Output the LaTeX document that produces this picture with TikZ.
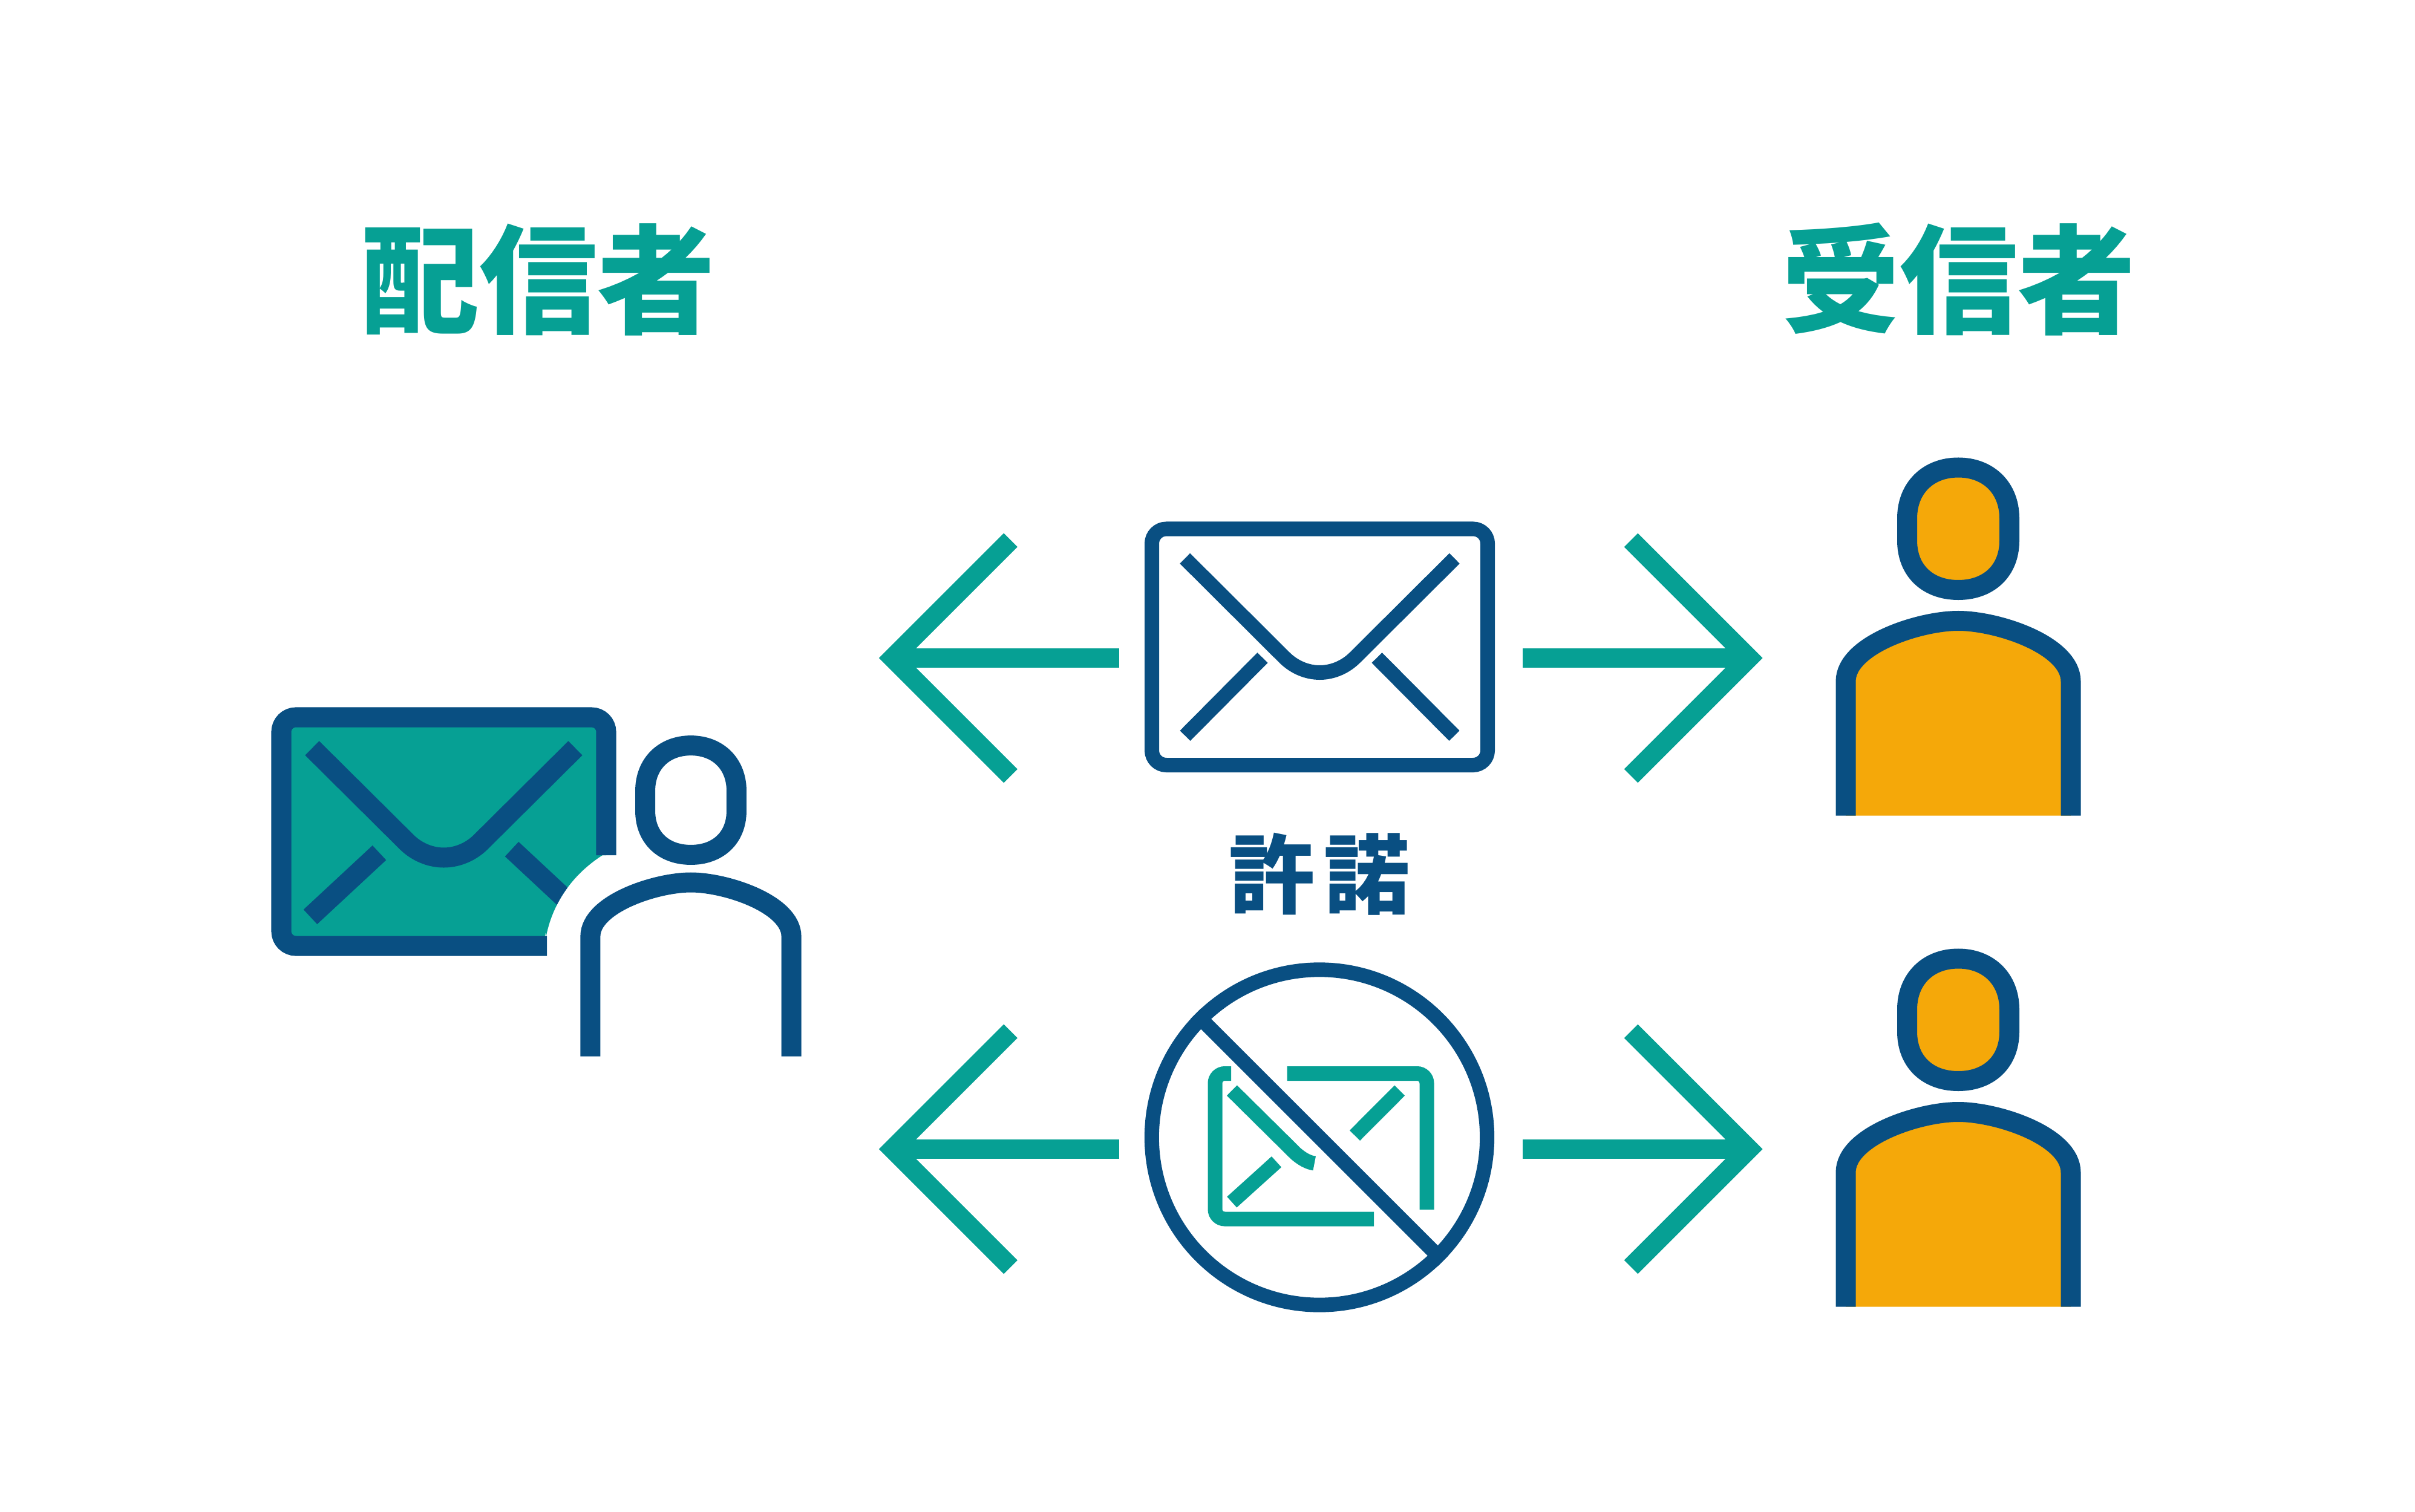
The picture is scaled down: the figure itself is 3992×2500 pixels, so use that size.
\documentclass[tikz,border=0pt]{standalone}
\usepackage{fontspec}
\newfontfamily\cjkfont{Noto Sans CJK JP}
\definecolor{darkline}{RGB}{9,79,130}
\definecolor{tealline}{RGB}{6,160,148}
\definecolor{orangefill}{RGB}{245,168,9}
\tikzset{
  flowline/.style={draw=tealline,line width=0.32cm},
  outline/.style={draw=darkline,line width=0.33cm},
  thinline/.style={draw=darkline,line width=0.24cm},
  crossline/.style={draw=tealline,line width=0.24cm},
  bigtitle/.style={font=\cjkfont\bfseries\fontsize{55.5}{55.5}\selectfont,inner sep=0pt},
  smalltitle/.style={font=\cjkfont\bfseries\fontsize{40.5}{40.5}\selectfont,inner sep=0pt},
  person/.pic={
    \draw [outline,pic actions] (0,-253.5) .. controls (50,-253.5) and (84.5,-219.5) .. (84.5,-169.5)
      -- (84.5,-132.5) .. controls (84.5,-82.5) and (50,-51) .. (0,-51)
      .. controls (-50,-51) and (-84.5,-82.5) .. (-84.5,-132.5)
      -- (-84.5,-169.5) .. controls (-84.5,-219.5) and (-50,-253.5) .. (0,-253.5) -- cycle;
    \draw [outline,pic actions] (-186,322) -- (-186,100)
      .. controls (-186,40) and (-65,0) .. (0,0)
      .. controls (65,0) and (186,40) .. (186,100) -- (186,322);
  }
}
\begin{document}
\begin{tikzpicture}[x=0.01cm,y=-0.01cm]
    \useasboundingbox (0,0) rectangle (3992,2500);

    \draw (890,462) node (sender) [bigtitle,text=tealline] {配信者};
    \draw (3238,462) node (receiver) [bigtitle,text=tealline] {受信者};
    \draw (2181,1445) node (consent) [smalltitle,text=darkline] {許\kern0.1em 諾};

    % sender envelope
    \fill [tealline,rounded corners=0.24cm] (1002,1414) -- (1002,1186) -- (465,1186) -- (465,1564) -- (902,1564)
      [sharp corners] -- (902,1552) .. controls (915,1480) and (960,1437) .. (996,1414) -- cycle;
    \begin{scope}
      \clip (1002,1186) -- (465,1186) -- (465,1564) -- (902,1564) -- (902,1552)
        .. controls (915,1480) and (960,1437) .. (996,1414) -- (1002,1414) -- cycle;
      \draw [outline] (846,1404) -- (935,1487);
    \end{scope}
    \draw [outline,rounded corners=0.24cm] (1002,1414) -- (1002,1186) -- (465,1186) -- (465,1564) -- (904,1564);
    \draw [outline] (516,1237) -- (672,1392) .. controls (688,1408) and (710.5,1418) .. (733.5,1418)
      .. controls (756.5,1418) and (779,1408) .. (795,1392) -- (951,1237);
    \draw [outline] (627,1410) -- (513,1516);

    % people
    \draw (1142,1459) pic (senderPerson) [scale=0.893] {person};
    \draw (3237,1026.5) pic (receiverTop) [fill=orangefill] {person};
    \draw (3237,1838.5) pic (receiverBottom) [fill=orangefill] {person};

    % open envelope
    \draw [thinline,rounded corners=0.24cm] (1904,874.5) rectangle (2459,1265);
    \draw [thinline] (1958.7,923.3) -- (2123,1087) .. controls (2138.5,1102.5) and (2159.5,1112) .. (2181.5,1112)
      .. controls (2203.5,1112) and (2224.5,1102.5) .. (2240,1087) -- (2404.3,923.3);
    \draw [thinline] (2087,1087.5) -- (1959,1216.5);
    \draw [thinline] (2276,1087.5) -- (2404,1216.5);

    % refused envelope
    \draw (2181,1880.5) node (refused) [circle,thinline,minimum size=5.54cm,inner sep=0pt] {};
    \draw [thinline] (refused.135) -- (refused.-45);
    \draw [crossline,rounded corners=0.16cm] (2035,1775) -- (2008.5,1775) -- (2008.5,2015.5) -- (2271,2015.5);
    \draw [crossline,rounded corners=0.16cm] (2127.7,1775) -- (2358.5,1775) -- (2358.5,2000);
    \draw [crossline] (2036.4,1803) -- (2142,1907.5) .. controls (2152,1916) and (2162,1922) .. (2172.7,1923.5);
    \draw [crossline] (2313.7,1803) -- (2239.5,1877.5);
    \draw [crossline] (2110,1921) -- (2036.3,1987.6);

    % arrows
    \draw (1850,1088) coordinate (topLeftFrom);
    \draw (1497,1088) coordinate (topLeftTo);
    \draw (2517,1088) coordinate (topRightFrom);
    \draw (2870,1088) coordinate (topRightTo);
    \draw (1850,1900) coordinate (bottomLeftFrom);
    \draw (1497,1900) coordinate (bottomLeftTo);
    \draw (2517,1900) coordinate (bottomRightFrom);
    \draw (2870,1900) coordinate (bottomRightTo);
    \draw [flowline] (topLeftFrom) -- (topLeftTo);
    \draw [flowline] (topRightFrom) -- (topRightTo);
    \draw [flowline] (bottomLeftFrom) -- (bottomLeftTo);
    \draw [flowline] (bottomRightFrom) -- (bottomRightTo);
    \draw [flowline] (1670.5,893) -- (1475.5,1088) -- (1670.5,1283);
    \draw [flowline] (2696,893) -- (2891,1088) -- (2696,1283);
    \draw [flowline] (1670.5,1705) -- (1475.5,1900) -- (1670.5,2095);
    \draw [flowline] (2696,1705) -- (2891,1900) -- (2696,2095);
\end{tikzpicture}
\end{document}
